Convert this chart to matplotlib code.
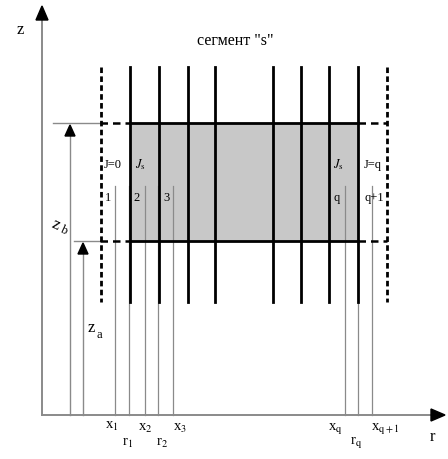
import matplotlib.pyplot as plt
from matplotlib.patches import Rectangle, Polygon

# diagram geometry (pixel coordinates of the reference picture)
thick_x = [130, 159, 188, 215, 273, 301, 329, 358]     # electrode lines
dashed_x = [101, 387]                                  # segment borders
thin_x = [115, 129, 145, 158, 173, 345, 358, 372]      # x_i / r_i marks
z_levels = {"z_b": 123, "z_a": 241}
arrow_x = {"z_b": 70, "z_a": 83}

bottom_labels = [
    ("x", "1", 112, 426), ("r", "1", 128, 443), ("x", "2", 145, 428),
    ("r", "2", 162, 443), ("x", "3", 180, 428),
    ("x", "q", 335, 429), ("r", "q", 356, 443), ("x", "q+1", 385, 429),
]
cell_labels = [("J=0", 113, 165), ("$J_{\\rm s}$", 140, 165), ("1", 108, 198),
               ("2", 137, 198), ("3", 167, 198), ("$J_{\\rm s}$", 338, 165),
               ("J=q", 373, 165), ("q", 337, 198), ("q+1", 374, 198)]

plt.rcParams['font.family'] = ['Liberation Serif', 'DejaVu Serif']
plt.rcParams['mathtext.fontset'] = 'stix'

fig = plt.figure(figsize=(4.48, 4.59), dpi=100)
ax = fig.add_axes([0, 0, 1, 1])
ax.set_xlim(0, 448)
ax.set_ylim(459, 0)
ax.axis('off')

grey = '#8a8a8a'


def head(x, y, direction, w=5, h=12):
    if direction == 'up':
        pts = [(x, y), (x - w, y + h), (x + w, y + h)]
    else:
        pts = [(x, y), (x - h, y - w), (x - h, y + w)]
    ax.add_patch(Polygon(pts, closed=True, color='black', zorder=5))


# axes
ax.plot([42, 42], [415, 18], color=grey, lw=1.4)
head(42, 6, 'up', w=6, h=14)
ax.plot([42, 432], [415, 415], color=grey, lw=1.4)
head(445, 415, 'right', w=6, h=14)
ax.text(20, 30, "z", fontsize=12, ha='center', va='center')
ax.text(432, 437, "r", fontsize=12, ha='center', va='center')

# shaded segment
ax.add_patch(Rectangle((130, 123), 228, 118, facecolor='#c8c8c8',
                       edgecolor='none', zorder=0))

# thin vertical marks
for x in thin_x:
    ax.plot([x, x], [186, 415], color=grey, lw=0.9, zorder=1)

# z levels
starts = {"z_b": 53, "z_a": 74}
for name, y in z_levels.items():
    ax.plot([starts[name], 100], [y, y], color=grey, lw=1.0, zorder=1)
    ax.plot([100, 130], [y, y], color='black', lw=1.8, ls=(0, (3, 2)), zorder=3)
    ax.plot([130, 358], [y, y], color='black', lw=2.0, zorder=3)
    ax.plot([358, 387], [y, y], color='black', lw=1.8, ls=(0, (3, 2)), zorder=3)
    xa = arrow_x[name]
    ax.plot([xa, xa], [415, y + 10], color=grey, lw=1.0, zorder=1)
    head(xa, y + 2, 'up', w=5, h=11)

ax.text(56, 225, "z", fontsize=12, ha='center', va='center', rotation=-25)
ax.text(64, 231, "b", fontsize=9, ha='center', va='center', rotation=-25)
ax.text(91, 328, "z", fontsize=12, ha='center', va='center')
ax.text(99, 335, "a", fontsize=9, ha='center', va='center')

# electrode lines
for x in thick_x:
    ax.plot([x, x], [67, 302], color='black', lw=2.0, zorder=4)
for x in dashed_x:
    ax.plot([x, x], [67, 302], color='black', lw=2.0, ls=(0, (2, 1.2)), zorder=4)

# labels
ax.text(235, 41, 'сегмент "s"', fontsize=11.5, ha='center', va='center')
for txt, x, y in cell_labels:
    ax.text(x, y, txt, fontsize=9, ha='center', va='center', zorder=6)
for base, sub, x, y in bottom_labels:
    ax.text(x, y, "%s$_{\\rm %s}$" % (base, sub), fontsize=10.5,
            ha='center', va='center')

fig.savefig("out.png", dpi=100)
